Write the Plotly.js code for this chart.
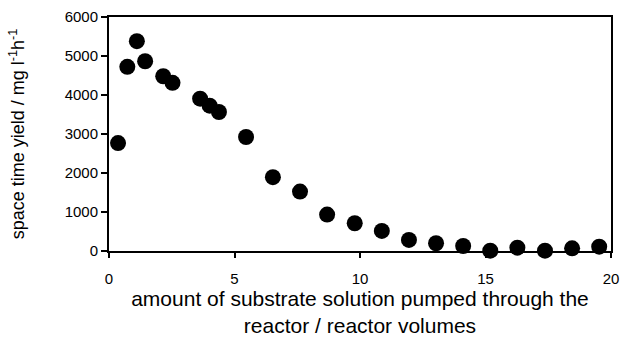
<!DOCTYPE html>
<html><head><meta charset="utf-8">
<script src="https://cdn.plot.ly/plotly-3.0.1.min.js"></script>
<style>html,body{margin:0;padding:0;background:#fff}#c{width:623px;height:341px}</style>
</head><body><div id="c"></div>
<script>
const volumes = [0.36, 0.73, 1.11, 1.44, 2.16, 2.53, 3.63, 4.01, 4.38, 5.46, 6.53, 7.61, 8.69, 9.79, 10.87, 11.95, 13.03, 14.11, 15.19, 16.27, 17.37, 18.45, 19.53];
const yields = [2768, 4722, 5380, 4866, 4481, 4311, 3907, 3727, 3565, 2923, 1894, 1524, 933, 712, 514, 283, 198, 128, 8, 85, 8, 69, 110];
const xTicks = [0, 5, 10, 15, 20];
const yTicks = [0, 1000, 2000, 3000, 4000, 5000, 6000];

const fam = 'Liberation Sans, Arial, sans-serif';
Plotly.newPlot('c', [{
  x: volumes, y: yields, type: 'scatter', mode: 'markers',
  marker: {color: '#000', size: 16}, cliponaxis: false
}], {
  width: 623, height: 341,
  margin: {l: 109, r: 12, t: 17, b: 90},
  paper_bgcolor: '#fff', plot_bgcolor: '#fff',
  showlegend: false,
  font: {family: fam, color: '#000'},
  xaxis: {
    range: [0, 20], tickvals: xTicks, ticktext: xTicks.map(String),
    showgrid: false, zeroline: false, showline: true, linecolor: '#000', linewidth: 2, mirror: true,
    ticks: 'outside', ticklen: 5, tickwidth: 2, tickcolor: '#000', ticklabelstandoff: 8,
    tickfont: {size: 15, family: fam, color: '#000'},
    automargin: false,
    title: {text: 'amount of substrate solution pumped through the<br>reactor / reactor volumes', font: {size: 21, family: fam, color: '#000'}, standoff: 3}
  },
  yaxis: {
    range: [0, 6000], tickvals: yTicks, ticktext: yTicks.map(String),
    showgrid: false, zeroline: false, showline: true, linecolor: '#000', linewidth: 2, mirror: true,
    ticks: 'outside', ticklen: 6, tickwidth: 2, tickcolor: '#000',
    tickfont: {size: 15, family: fam, color: '#000'},
    automargin: false,
    title: {text: 'space time yield / mg l<sup>-1</sup>h<sup>-1</sup>', font: {size: 18, family: fam, color: '#000'}, standoff: 35}
  }
}, {staticPlot: true});
</script></body></html>
